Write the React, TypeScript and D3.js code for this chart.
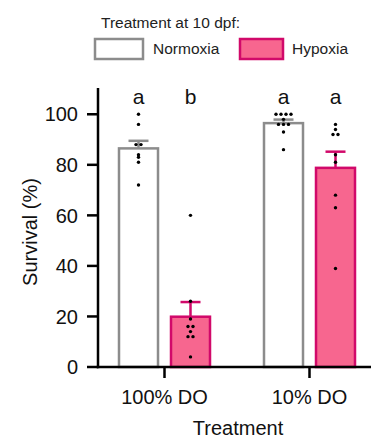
import React from "react";
import * as d3 from "d3";

// treatment groups on the x axis, oxygen condition at 10 dpf as the subgroups
const treatments = ["100% DO", "10% DO"];
const conditions = ["Normoxia", "Hypoxia"];

// mean survival (%) for each bar, order: treatment x condition
const means = [
  [86.5, 19.9],
  [96.5, 78.8],
];

// upper error (SEM) read from the caps
const errors = [
  [3.0, 5.8],
  [1.4, 6.4],
];

// individual replicates
const points = [
  [
    [100, 96, 88, 88, 84, 83, 81, 72],
    [60, 26, 19, 16, 16, 14, 12, 12, 4],
  ],
  [
    [100, 100, 100, 100, 98, 96, 96, 96, 93, 86],
    [96, 94, 92, 92, 84, 81, 68, 63, 39],
  ],
];

const letters = [
  ["a", "b"],
  ["a", "a"],
];

const yTicks = [0, 20, 40, 60, 80, 100];

const fills = { Normoxia: "#ffffff", Hypoxia: "#f7668f" };
const strokes = { Normoxia: "#8c8c8c", Hypoxia: "#d1096a" };

const W = 371;
const H = 440;
const font = "'Liberation Sans', Arial, sans-serif";

// spread replicates that share a value side by side
function spread(vals: number[], gap: number) {
  const counts = d3.rollup(vals, (v) => v.length, (v) => v);
  const seen = new Map<number, number>();
  return vals.map((v) => {
    const n = counts.get(v) || 1;
    const i = seen.get(v) || 0;
    seen.set(v, i + 1);
    return { v, dx: (i - (n - 1) / 2) * gap };
  });
}

export default function App() {
  const axisX = 98;
  const x0 = d3.scaleBand().domain(treatments).range([92, 382]);
  const x1 = d3
    .scaleBand()
    .domain(conditions)
    .range([-52, 52])
    .paddingInner(0.25)
    .paddingOuter(0.125);
  const y = d3.scaleLinear().domain([0, 110]).range([367, 89]);

  const center = (t: string) => x0(t)! + x0.bandwidth() / 2;

  return (
    <svg
      width={W}
      height={H}
      style={{ position: "absolute", left: 0, top: 0 }}
      fontFamily={font}
    >
      {/* legend */}
      <text x={101} y={28} fontSize={15.5} fill="#222">
        Treatment at 10 dpf:
      </text>
      {conditions.map((c, i) => {
        const lx = i === 0 ? 95 : 240;
        return (
          <g key={c}>
            <rect
              x={lx}
              y={39}
              width={i === 0 ? 48 : 43}
              height={20}
              fill={fills[c]}
              stroke={strokes[c]}
              strokeWidth={2.5}
            />
            <text x={lx + (i === 0 ? 58 : 52)} y={54} fontSize={15.5} fill="#222">
              {c}
            </text>
          </g>
        );
      })}

      {/* bars, error bars, points, letters */}
      {treatments.map((t, ti) => (
        <g key={t} transform={`translate(${center(t)},0)`}>
          {conditions.map((c, ci) => {
            const bx = x1(c)!;
            const bw = x1.bandwidth();
            const cx = bx + bw / 2;
            const m = means[ti][ci];
            const e = errors[ti][ci];
            return (
              <g key={c}>
                <rect
                  x={bx}
                  y={y(m)}
                  width={bw}
                  height={y(0) - y(m)}
                  fill={fills[c]}
                  stroke={strokes[c]}
                  strokeWidth={2.5}
                />
                <line
                  x1={cx}
                  x2={cx}
                  y1={y(m)}
                  y2={y(m + e)}
                  stroke={strokes[c]}
                  strokeWidth={2.5}
                />
                <line
                  x1={cx - 10}
                  x2={cx + 10}
                  y1={y(m + e)}
                  y2={y(m + e)}
                  stroke={strokes[c]}
                  strokeWidth={2.5}
                />
                {spread(points[ti][ci], 5).map((p, k) => (
                  <circle key={k} cx={cx + p.dx} cy={y(p.v)} r={1.7} fill="#000" />
                ))}
                <text
                  x={cx}
                  y={104}
                  textAnchor="middle"
                  fontSize={21}
                  fill="#111"
                >
                  {letters[ti][ci]}
                </text>
              </g>
            );
          })}
        </g>
      ))}

      {/* y axis */}
      <line x1={axisX} x2={axisX} y1={y(110) - 1} y2={y(0) + 1.25} stroke="#000" strokeWidth={2.5} />
      {yTicks.map((v) => (
        <g key={v} transform={`translate(0,${y(v)})`}>
          <line x1={axisX - 11} x2={axisX} stroke="#000" strokeWidth={2.5} />
          <text
            x={axisX - 20}
            dy="0.36em"
            textAnchor="end"
            fontSize={20}
            fill="#111"
          >
            {v}
          </text>
        </g>
      ))}

      {/* x axis */}
      <line x1={axisX - 1.25} x2={W} y1={y(0)} y2={y(0)} stroke="#000" strokeWidth={2.5} />
      {treatments.map((t) => (
        <g key={t} transform={`translate(${center(t)},0)`}>
          <line y1={y(0)} y2={y(0) + 11} stroke="#000" strokeWidth={2.5} />
          <text y={404} textAnchor="middle" fontSize={20} fill="#111">
            {t}
          </text>
        </g>
      ))}

      <text x={238} y={435} textAnchor="middle" fontSize={20} fill="#111">
        Treatment
      </text>
      <text
        transform={`translate(37,232) rotate(-90)`}
        textAnchor="middle"
        fontSize={20}
        fill="#111"
      >
        Survival (%)
      </text>
    </svg>
  );
}
